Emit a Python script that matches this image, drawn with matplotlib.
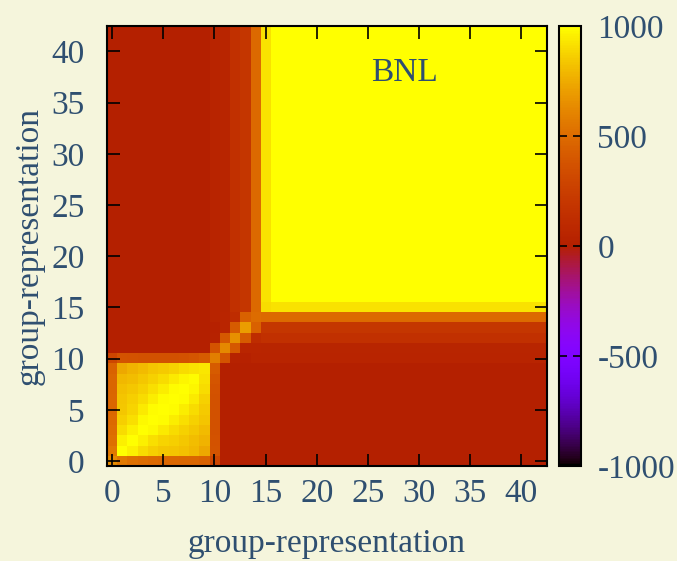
import numpy as np
import matplotlib.pyplot as plt

plt.rcParams['font.family'] = ['Liberation Serif', 'DejaVu Serif']
plt.rcParams['axes.unicode_minus'] = False

n = 43

# small block, groups 1..9
block_a = [
    [1000, 960, 900, 860, 840, 830, 820, 790, 740],
    [960, 1000, 960, 910, 880, 860, 840, 810, 780],
    [900, 960, 1000, 980, 940, 900, 870, 840, 800],
    [860, 910, 980, 1000, 990, 950, 910, 870, 830],
    [840, 880, 940, 990, 1000, 990, 950, 900, 850],
    [830, 860, 900, 950, 990, 1000, 990, 940, 870],
    [820, 840, 870, 910, 950, 990, 1000, 970, 900],
    [790, 810, 840, 870, 900, 940, 970, 990, 920],
    [740, 780, 800, 830, 850, 870, 900, 920, 930],
]
# edges of the small block (index 0..10)
row0 = [640, 560, 520, 500, 490, 480, 480, 470, 470, 460, 300]
row10 = [300, 380, 370, 360, 360, 360, 360, 370, 390, 420, 580]
# transition groups 10..14
mid = [
    [580, 380, 30, 20, 40],
    [380, 620, 400, 60, 60],
    [30, 400, 650, 420, 120],
    [20, 60, 420, 700, 450],
    [40, 60, 120, 450, 500],
]
# columns 0..15 for the rows of the large block
tail = [0, 0, 0, 0, 0, 0, 0, 0, 0, 0, 40, 50, 150, 190, 490, 920]
corner15 = 900
big_val = 1000

m = np.zeros((n, n))
m[1:10, 1:10] = block_a
m[0, :11] = row0
m[:11, 0] = row0
m[10, :11] = row10
m[:11, 10] = row10
m[10:15, 10:15] = mid
m[16:, :16] = tail
m[:16, 16:] = np.array(tail)[:, None]
m[15, :15] = tail[:15]
m[:15, 15] = tail[:15]
m[15, 15] = corner15
m[16:, 16:] = big_val

bg = '#f5f5dc'
txt = '#2f4f70'

fig = plt.figure(figsize=(6.77, 5.61), dpi=100, facecolor=bg)
ax = fig.add_axes([0.158, 0.169, 0.650, 0.785])
im = ax.imshow(m, origin='lower', cmap='gnuplot', vmin=-1000, vmax=1000,
               extent=(-0.5, 42.5, -0.5, 42.5), interpolation='nearest',
               aspect='auto')
ticks = np.arange(0, 41, 5)
ax.set_xticks(ticks)
ax.set_yticks(ticks)
ax.tick_params(direction='in', length=9, width=1.2, color='black',
               top=True, right=True, labelsize=24, labelcolor=txt)
ax.tick_params(axis='x', pad=9)
ax.tick_params(axis='y', pad=16)
for s in ax.spines.values():
    s.set_linewidth(1.5)
ax.set_xlabel('group-representation', fontsize=24, color=txt, labelpad=14)
ax.set_ylabel('group-representation', fontsize=24, color=txt, labelpad=5)
ax.text(28.6, 37.9, 'BNL', fontsize=24, color=txt, ha='center', va='center')

cax = fig.add_axes([0.8257, 0.169, 0.032, 0.785])
cb = fig.colorbar(im, cax=cax, ticks=[-1000, -500, 0, 500, 1000])
cb.ax.tick_params(direction='in', length=6, width=1.2, color='black',
                  left=True, right=True, labelsize=24, labelcolor=txt, pad=12)
cb.outline.set_linewidth(1.5)

fig.savefig('out.png', dpi=100, facecolor=bg)
